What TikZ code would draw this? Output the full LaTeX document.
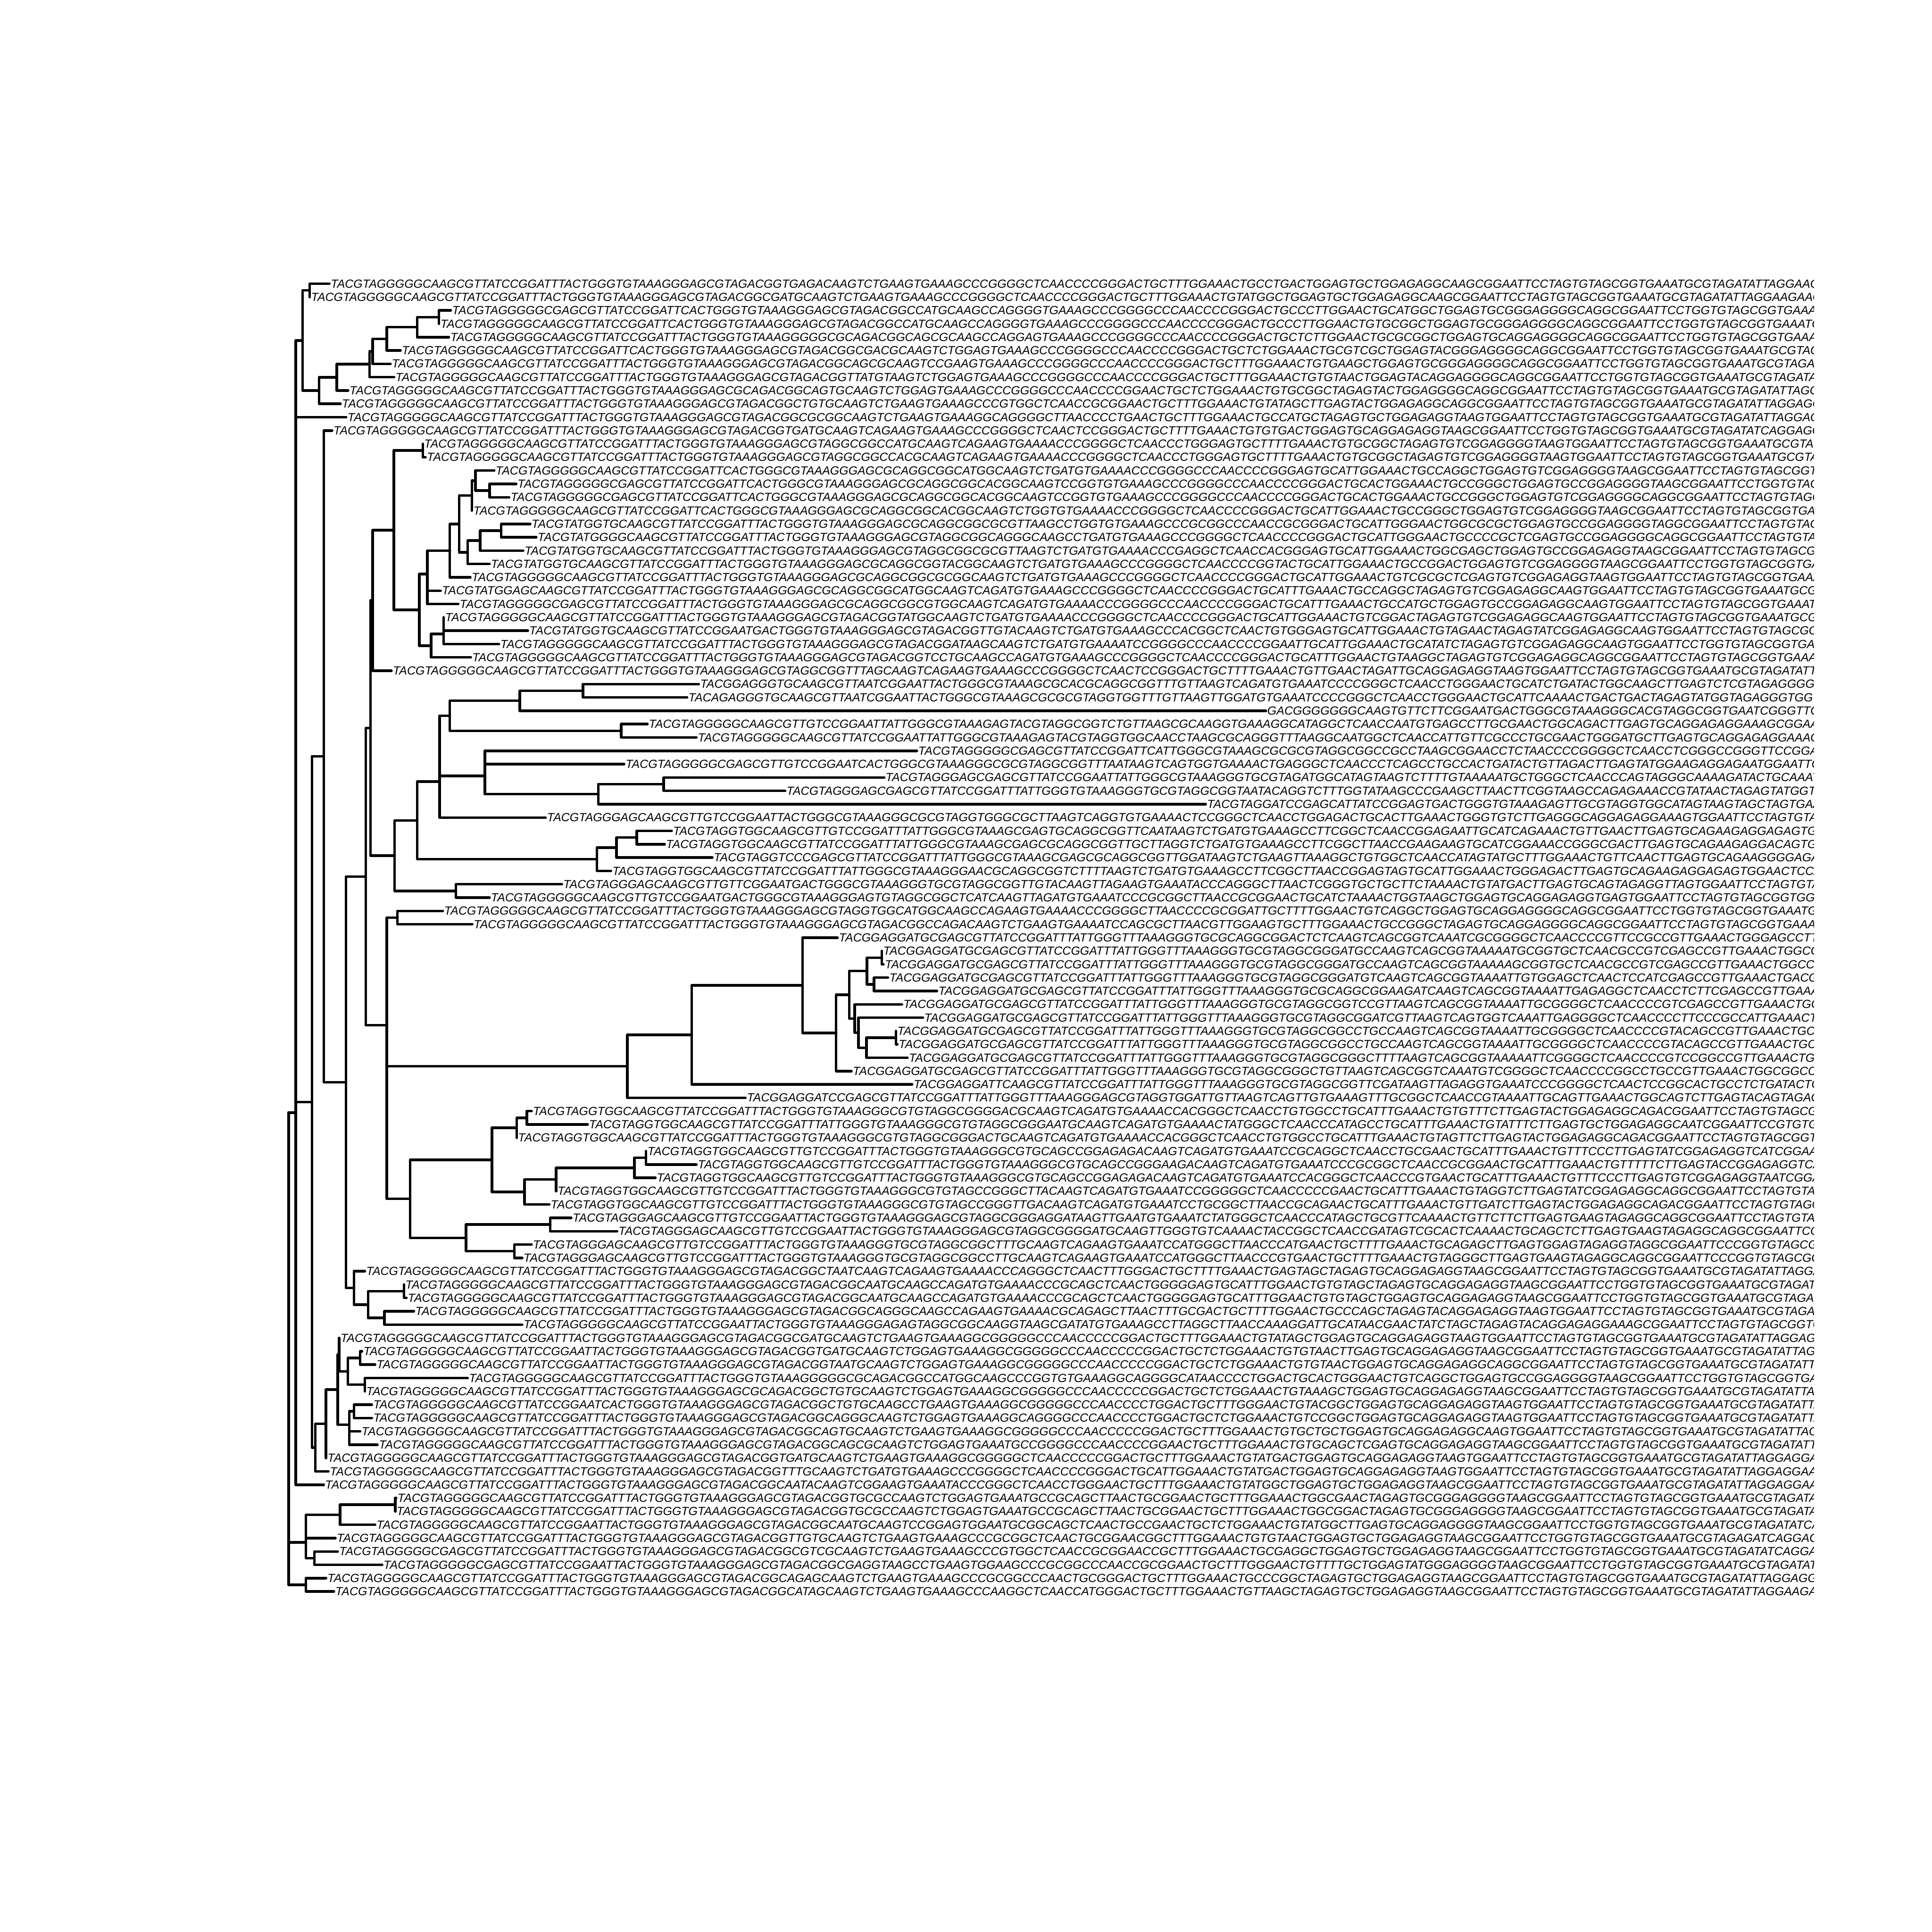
\documentclass[tikz,border=0pt]{standalone}
\usepackage{fontspec}
\newfontfamily\seqfont{Liberation Sans}
\begin{document}
\begin{tikzpicture}[x=1pt,y=1pt,
  branch/.style={line width=2.1pt,line cap=round,line join=round},
  lab/.style={anchor=west,inner sep=0pt,outer sep=0pt,xshift=1.2pt,font=\seqfont\itshape\fontsize{9.56}{9.56}\selectfont}]
\fill[white] (0,0) rectangle (1568,-1568);
\useasboundingbox (0,0) rectangle (1568,-1568);
\begin{scope}[yshift=-219.47pt,y=-10.83pt]
% tips
\foreach \k/\x in {1/267.3,2/251.3,3/365.8,4/356.3,5/364.3,6/325.0,7/316.9,8/319.8,9/282.5,10/276.3,
11/280.9,12/269.5,13/343.1,14/345.3,15/401.1,16/418.9,17/413.2,18/383.0,19/430.3,20/435.2,
21/424.6,22/397.3,23/381.7,24/357.5,25/371.9,26/360.1,27/428.4,28/404.9,29/382.1,30/317.7,
31/567.1,32/557.6,33/1027.4,34/525.4,35/565.2,36/744.1,37/506.5,38/717.6,39/637.2,40/978.5,
41/442.8,42/545.1,43/539.4,44/578.1,45/495.8,46/456.0,47/397.3,48/359.4,49/383.3,50/679.7,
51/715.7,52/717.0,53/720.6,54/760.4,55/732.0,56/749.0,57/727.1,58/728.2,59/736.5,60/691.0,
61/740.3,62/605.0,63/431.4,64/476.9,65/419.3,66/524.3,67/565.2,68/531.9,69/451.3,70/445.8,
71/463.6,72/500.8,73/431.4,74/423.8,75/296.1,76/327.9,77/329.8,78/335.9,79/423.8,80/275.2,
81/293.8,82/304.4,83/379.5,84/296.1,85/301.8,86/301.8,87/292.3,88/306.3,89/264.6,90/266.5,
91/262.7,92/321.5,93/320.7,94/304.4,95/272.2,96/274.1,97/310.1,98/264.6,99/271.0}
  {\coordinate (t\k) at (\x,\k);}
% internal nodes
\foreach \n/\x/\k in {A/251.3/1.5,H/356.3/3.5,G/338.5/4.25,F/313.9/5.125,E2/302.5/6.0625,E/299.9/7.03125,
D/273.3/8.015625,C/258.9/9.0078,B/245.5/5.2539,Y/240.0/8.127,
N13/343.1/13.5,N455/397.3/16.5,N425/385.9/15.75,N418/383.0/16.875,N480/406.8/19.5,N435/389.7/20.25,
N405/379.5/21.125,N390/372.6/19.0,N370/365.1/21.0,N322a/346.9/24.5,N322/346.9/22.75,W5a/360.1/26.5,
W5/360.1/27.25,W4/349.9/28.125,W3/340.4/25.4375,W2/319.6/19.46875,W1/302.5/24.734,
N655/473.1/31.5,N520/421.9/32.25,N737/504.2/34.5,M1/365.1/33.375,K3b/393.5/36.5,K2/538.7/38.5,
K1/485.6/39.25,K3/393.5/37.875,M0c/356.7/35.625,M0/356.7/38.3125,N770/516.7/42.5,N727/500.4/43.25,
K4/484.5/44.125,L1/338.5/41.21875,N383/370.0/46.5,L0/320.3/43.859,V2/300.6/34.297,
N48/322.6/48.5,N1295/715.7/51.5,N1278/709.3/53.5,N1262/703.6/52.5,N1325/727.1/57.5,N1262b/703.2/58.25,
N1245/696.7/57.125,N1236/693.7/56.0625,N1222/689.2/54.28,N1197/678.6/57.14,N1125/651.3/53.57,
N888/561.4/57.285,BC/509.1/59.64,N535/427.6/63.5,N513/419.3/64.25,N790/524.3/66.5,N765/514.8/67.25,
N597/451.3/68.125,N530/425.7/69.0625,N460/399.2/66.656,N585/446.6/71.5,N508/417.4/73.5,
N405b/378.3/72.5,N285/332.8/69.578,V3a/313.9/64.61,V3/313.9/56.555,V1/296.8/45.426,
N272/327.9/76.5,N230/312.0/78.5,N195/298.7/77.5,G1/287.3/76.25,P2/280.7/60.838,P/262.7/36.419,
S6/292.3/81.5,S7/296.1/83.5,S5/282.4/82.5,S4/275.2/81.25,S9/287.3/85.5,S8b/283.5/87.5,S8/283.5/86.5,
S3/274.1/83.875,S2/264.6/86.4375,S/255.9/88.22,Q/253.2/62.32,X/240.0/35.22,N1/240.0/63.11,
T3/320.7/92.5,T2a/276.0/93.25,T2/248.3/94.125,U/255.1/96.5,T1/248.3/95.3125,Z/248.3/98.5,R/234.3/63.11}
  {\coordinate (\n) at (\x,\k);}
% branches
\foreach \p/\c in {A/t1,A/t2,H/t3,H/t4,G/H,G/t5,F/G,F/t6,E2/F,E2/t7,E/E2,E/t8,D/E,D/t9,C/D,C/t10,B/A,B/C,Y/B,Y/t11,
N13/t13,N13/t14,N455/t16,N455/t17,N425/t15,N425/N455,N418/N425,N418/t18,N480/t19,N480/t20,N435/N480,N435/t21,
N405/N435,N405/t22,N390/N418,N390/N405,N370/N390,N370/t23,N322a/t24,N322a/t25,N322/N370,N322/N322a,
W5a/t26,W5a/t27,W5/W5a,W5/t28,W4/W5,W4/t29,W3/N322,W3/W4,W2/N13,W2/W3,W1/W2,W1/t30,
N655/t31,N655/t32,N520/N655,N520/t33,N737/t34,N737/t35,M1/N520,M1/N737,K3b/t36,K3b/t37,K2/t38,K2/t39,
K1/K2,K1/t40,K3/K3b,K3/K1,M0c/M1,M0c/K3,M0/M0c,M0/t41,N770/t42,N770/t43,N727/N770,N727/t44,K4/N727,K4/t45,
L1/M0,L1/K4,N383/t46,N383/t47,L0/L1,L0/N383,V2/W1,V2/L0,
N48/t48,N48/t49,N1295/t51,N1295/t52,N1278/t53,N1278/t54,N1262/N1295,N1262/N1278,N1325/t57,N1325/t58,
N1262b/N1325,N1262b/t59,N1245/t56,N1245/N1262b,N1236/t55,N1236/N1245,N1222/N1262,N1222/N1236,
N1197/N1222,N1197/t60,N1125/t50,N1125/N1197,N888/N1125,N888/t61,BC/N888,BC/t62,
N535/t63,N535/t64,N513/N535,N513/t65,N790/t66,N790/t67,N765/N790,N765/t68,N597/N765,N597/t69,
N530/N597,N530/t70,N460/N513,N460/N530,N585/t71,N585/t72,N508/t73,N508/t74,N405b/N585,N405b/N508,
N285/N460,N285/N405b,V3a/BC,V3a/N285,V3/N48,V3/V3a,V1/V2,V1/V3,
N272/t76,N272/t77,N230/t78,N230/t79,N195/N272,N195/N230,G1/t75,G1/N195,P2/V1,P2/G1,P/t12,P/P2,
S6/t81,S6/t82,S7/t83,S7/t84,S5/S6,S5/S7,S4/t80,S4/S5,S9/t85,S9/t86,S8b/t87,S8b/t88,S8/S9,S8/S8b,
S3/S4,S3/S8,S2/S3,S2/t89,S/S2,S/t90,Q/P,Q/S,X/Y,X/Q,N1/X,N1/t91,
T3/t92,T3/t93,T2a/T3,T2a/t94,T2/T2a,T2/t95,U/t96,U/t97,T1/T2,T1/U,Z/t98,Z/t99,R/N1,R/T1,R/Z}
  {\draw[branch] (\p) |- (\c);}
% labels
\begin{scope}
\clip (0,-25) rectangle (1472,126);
\node[lab] (l1) at (t1) {TACGTAGGGGGCAAGCGTTATCCGGATTTACTGGGTGTAAAGGGAGCGTAGACGGTGAGACAAGTCTGAAGTGAAAGCCCGGGGCTCAACCCCGGGACTGCTTTGGAAACTGCCTGACTGGAGTGCTGGAGAGGCAAGCGGAATTCCTAGTGTAGCGGTGAAATGCGTAGATATTAGGAAGAACACC};
\node[lab] (l2) at (t2) {TACGTAGGGGGCAAGCGTTATCCGGATTTACTGGGTGTAAAGGGAGCGTAGACGGCGATGCAAGTCTGAAGTGAAAGCCCGGGGCTCAACCCCGGGACTGCTTTGGAAACTGTATGGCTGGAGTGCTGGAGAGGCAAGCGGAATTCCTAGTGTAGCGGTGAAATGCGTAGATATTAGGAAGAACACC};
\node[lab] (l3) at (t3) {TACGTAGGGGGCGAGCGTTATCCGGATTCACTGGGTGTAAAGGGAGCGTAGACGGCCATGCAAGCCAGGGGTGAAAGCCCGGGGCCCAACCCCGGGACTGCCCTTGGAACTGCATGGCTGGAGTGCGGGAGGGGCAGGCGGAATTCCTGGTGTAGCGGTGAAATGCGTAG};
\node[lab] (l4) at (t4) {TACGTAGGGGGCAAGCGTTATCCGGATTCACTGGGTGTAAAGGGAGCGTAGACGGCCATGCAAGCCAGGGGTGAAAGCCCGGGGCCCAACCCCGGGACTGCCCTTGGAACTGTGCGGCTGGAGTGCGGGAGGGGCAGGCGGAATTCCTGGTGTAGCGGTGAAATGCGTAG};
\node[lab] (l5) at (t5) {TACGTAGGGGGCAAGCGTTATCCGGATTTACTGGGTGTAAAGGGGGCGCAGACGGCAGCGCAAGCCAGGAGTGAAAGCCCGGGGCCCAACCCCGGGACTGCTCTTGGAACTGCGCGGCTGGAGTGCAGGAGGGGCAGGCGGAATTCCTGGTGTAGCGGTGAAATGCGTAG};
\node[lab] (l6) at (t6) {TACGTAGGGGGCAAGCGTTATCCGGATTCACTGGGTGTAAAGGGAGCGTAGACGGCGACGCAAGTCTGGAGTGAAAGCCCGGGGCCCAACCCCGGGACTGCTCTGGAAACTGCGTCGCTGGAGTACGGGAGGGGCAGGCGGAATTCCTGGTGTAGCGGTGAAATGCGTAGATATC};
\node[lab] (l7) at (t7) {TACGTAGGGGGCAAGCGTTATCCGGATTTACTGGGTGTAAAGGGAGCGTAGACGGCAGCGCAAGTCCGAAGTGAAAGCCCGGGGCCCAACCCCGGGACTGCTTTGGAAACTGTGAAGCTGGAGTGCGGGAGGGGCAGGCGGAATTCCTGGTGTAGCGGTGAAATGCGTAGATATC};
\node[lab] (l8) at (t8) {TACGTAGGGGGCAAGCGTTATCCGGATTTACTGGGTGTAAAGGGAGCGTAGACGGTTATGTAAGTCTGGAGTGAAAGCCCGGGGCCCAACCCCGGGACTGCTTTGGAAACTGTGTAACTGGAGTACAGGAGGGGCAGGCGGAATTCCTGGTGTAGCGGTGAAATGCGTAGATATC};
\node[lab] (l9) at (t9) {TACGTAGGGGGCAAGCGTTATCCGGATTTACTGGGTGTAAAGGGAGCGCAGACGGCAGTGCAAGTCTGGAGTGAAAGCCCGGGGCCCAACCCCGGAACTGCTCTGGAAACTGTGCGGCTAGAGTACTGGAGGGGCAGGCGGAATTCCTAGTGTAGCGGTGAAATGCGTAGATATTAGGAGG};
\node[lab] (l10) at (t10) {TACGTAGGGGGCAAGCGTTATCCGGATTTACTGGGTGTAAAGGGAGCGTAGACGGCTGTGCAAGTCTGAAGTGAAAGCCCGTGGCTCAACCGCGGAACTGCTTTGGAAACTGTATAGCTTGAGTACTGGAGAGGCAGGCGGAATTCCTAGTGTAGCGGTGAAATGCGTAGATATTAGGAGGAAC};
\node[lab] (l11) at (t11) {TACGTAGGGGGCAAGCGTTATCCGGATTTACTGGGTGTAAAGGGAGCGTAGACGGCGCGGCAAGTCTGAAGTGAAAGGCAGGGGCTTAACCCCTGAACTGCTTTGGAAACTGCCATGCTAGAGTGCTGGAGAGGTAAGTGGAATTCCTAGTGTAGCGGTGAAATGCGTAGATATTAGGAGGAAC};
\node[lab] (l12) at (t12) {TACGTAGGGGGCAAGCGTTATCCGGATTTACTGGGTGTAAAGGGAGCGTAGACGGTGATGCAAGTCAGAAGTGAAAGCCCGGGGCTCAACTCCGGGACTGCTTTTGAAACTGTGTGACTGGAGTGCAGGAGAGGTAAGCGGAATTCCTGGTGTAGCGGTGAAATGCGTAGATATCAGGAGGAAC};
\node[lab] (l13) at (t13) {TACGTAGGGGGCAAGCGTTATCCGGATTTACTGGGTGTAAAGGGAGCGTAGGCGGCCATGCAAGTCAGAAGTGAAAACCCGGGGCTCAACCCTGGGAGTGCTTTTGAAACTGTGCGGCTAGAGTGTCGGAGGGGTAAGTGGAATTCCTAGTGTAGCGGTGAAATGCGTAGATAT};
\node[lab] (l14) at (t14) {TACGTAGGGGGCAAGCGTTATCCGGATTTACTGGGTGTAAAGGGAGCGTAGGCGGCCACGCAAGTCAGAAGTGAAAACCCGGGGCTCAACCCTGGGAGTGCTTTTGAAACTGTGCGGCTAGAGTGTCGGAGGGGTAAGTGGAATTCCTAGTGTAGCGGTGAAATGCGTAGATAT};
\node[lab] (l15) at (t15) {TACGTAGGGGGCAAGCGTTATCCGGATTCACTGGGCGTAAAGGGAGCGCAGGCGGCATGGCAAGTCTGATGTGAAAACCCGGGGCCCAACCCCGGGAGTGCATTGGAAACTGCCAGGCTGGAGTGTCGGAGGGGTAAGCGGAATTCCTAGTGTAGCGGTGAAATG};
\node[lab] (l16) at (t16) {TACGTAGGGGGCGAGCGTTATCCGGATTCACTGGGCGTAAAGGGAGCGCAGGCGGCACGGCAAGTCCGGTGTGAAAGCCCGGGGCCCAACCCCGGGACTGCACTGGAAACTGCCGGGCTGGAGTGCCGGAGGGGTAAGCGGAATTCCTGGTGTAGCGGTGAAATG};
\node[lab] (l17) at (t17) {TACGTAGGGGGCGAGCGTTATCCGGATTCACTGGGCGTAAAGGGAGCGCAGGCGGCACGGCAAGTCCGGTGTGAAAGCCCGGGGCCCAACCCCGGGACTGCACTGGAAACTGCCGGGCTGGAGTGTCGGAGGGGCAGGCGGAATTCCTAGTGTAGCGGTGAAATG};
\node[lab] (l18) at (t18) {TACGTAGGGGGCAAGCGTTATCCGGATTCACTGGGCGTAAAGGGAGCGCAGGCGGCACGGCAAGTCTGGTGTGAAAACCCGGGGCTCAACCCCGGGACTGCATTGGAAACTGCCGGGCTGGAGTGTCGGAGGGGTAAGCGGAATTCCTAGTGTAGCGGTGAAATGCG};
\node[lab] (l19) at (t19) {TACGTATGGTGCAAGCGTTATCCGGATTTACTGGGTGTAAAGGGAGCGCAGGCGGCGCGTTAAGCCTGGTGTGAAAGCCCGCGGCCCAACCGCGGGACTGCATTGGGAACTGGCGCGCTGGAGTGCCGGAGGGGTAGGCGGAATTCCTAGTGTAGCGGTGAAATG};
\node[lab] (l20) at (t20) {TACGTATGGGGCAAGCGTTATCCGGATTTACTGGGTGTAAAGGGAGCGTAGGCGGCAGGGCAAGCCTGATGTGAAAGCCCGGGGCTCAACCCCGGGACTGCATTGGGAACTGCCCCGCTCGAGTGCCGGAGGGGCAGGCGGAATTCCTAGTGTAGCGGTGAAATG};
\node[lab] (l21) at (t21) {TACGTATGGTGCAAGCGTTATCCGGATTTACTGGGTGTAAAGGGAGCGTAGGCGGCGCGTTAAGTCTGATGTGAAAACCCGAGGCTCAACCACGGGAGTGCATTGGAAACTGGCGAGCTGGAGTGCCGGAGAGGTAAGCGGAATTCCTAGTGTAGCGGTGAAATG};
\node[lab] (l22) at (t22) {TACGTATGGTGCAAGCGTTATCCGGATTTACTGGGTGTAAAGGGAGCGCAGGCGGTACGGCAAGTCTGATGTGAAAGCCCGGGGCTCAACCCCGGTACTGCATTGGAAACTGCCGGACTGGAGTGTCGGAGGGGTAAGCGGAATTCCTGGTGTAGCGGTGAAATG};
\node[lab] (l23) at (t23) {TACGTAGGGGGCAAGCGTTATCCGGATTTACTGGGTGTAAAGGGAGCGCAGGCGGCGCGGCAAGTCTGATGTGAAAGCCCGGGGCTCAACCCCGGGACTGCATTGGAAACTGTCGCGCTCGAGTGTCGGAGAGGTAAGTGGAATTCCTAGTGTAGCGGTGAAATGCG};
\node[lab] (l24) at (t24) {TACGTATGGAGCAAGCGTTATCCGGATTTACTGGGTGTAAAGGGAGCGCAGGCGGCATGGCAAGTCAGATGTGAAAGCCCGGGGCTCAACCCCGGGACTGCATTTGAAACTGCCAGGCTAGAGTGTCGGAGAGGCAAGTGGAATTCCTAGTGTAGCGGTGAAATGCGTAG};
\node[lab] (l25) at (t25) {TACGTAGGGGGCGAGCGTTATCCGGATTTACTGGGTGTAAAGGGAGCGCAGGCGGCGTGGCAAGTCAGATGTGAAAACCCGGGGCCCAACCCCGGGACTGCATTTGAAACTGCCATGCTGGAGTGCCGGAGAGGCAAGTGGAATTCCTAGTGTAGCGGTGAAATGCG};
\node[lab] (l26) at (t26) {TACGTAGGGGGCAAGCGTTATCCGGATTTACTGGGTGTAAAGGGAGCGTAGACGGTATGGCAAGTCTGATGTGAAAACCCGGGGCTCAACCCCGGGACTGCATTGGAAACTGTCGGACTAGAGTGTCGGAGAGGCAAGTGGAATTCCTAGTGTAGCGGTGAAATGCGTAG};
\node[lab] (l27) at (t27) {TACGTATGGTGCAAGCGTTATCCGGAATGACTGGGTGTAAAGGGAGCGTAGACGGTTGTACAAGTCTGATGTGAAAGCCCACGGCTCAACTGTGGGAGTGCATTGGAAACTGTAGAACTAGAGTATCGGAGAGGCAAGTGGAATTCCTAGTGTAGCGGTGAAATG};
\node[lab] (l28) at (t28) {TACGTAGGGGGCAAGCGTTATCCGGATTTACTGGGTGTAAAGGGAGCGTAGACGGATAAGCAAGTCTGATGTGAAAATCCGGGGCCCAACCCCGGAATTGCATTGGAAACTGCATATCTAGAGTGTCGGAGAGGCAAGTGGAATTCCTGGTGTAGCGGTGAAATG};
\node[lab] (l29) at (t29) {TACGTAGGGGGCAAGCGTTATCCGGATTTACTGGGTGTAAAGGGAGCGTAGACGGTCCTGCAAGCCAGATGTGAAAGCCCGGGGCTCAACCCCGGGACTGCATTTGGAACTGTAAGGCTAGAGTGTCGGAGAGGCAGGCGGAATTCCTAGTGTAGCGGTGAAATGCG};
\node[lab] (l30) at (t30) {TACGTAGGGGGCAAGCGTTATCCGGATTTACTGGGTGTAAAGGGAGCGTAGGCGGTTTAGCAAGTCAGAAGTGAAAGCCCGGGGCTCAACTCCGGGACTGCTTTTGAAACTGTTGAACTAGATTGCAGGAGAGGTAAGTGGAATTCCTAGTGTAGCGGTGAAATGCGTAGATATTAGG};
\node[lab] (l31) at (t31) {TACGGAGGGTGCAAGCGTTAATCGGAATTACTGGGCGTAAAGCGCACGCAGGCGGTTTGTTAAGTCAGATGTGAAATCCCCGGGCTCAACCTGGGAACTGCATCTGATACTGGCAAGCTTGAGTCTCGTAGAGGGGGGTAG};
\node[lab] (l32) at (t32) {TACAGAGGGTGCAAGCGTTAATCGGAATTACTGGGCGTAAAGCGCGCGTAGGTGGTTTGTTAAGTTGGATGTGAAATCCCCGGGCTCAACCTGGGAACTGCATTCAAAACTGACTGACTAGAGTATGGTAGAGGGTGGTGGA};
\node[lab] (l33) at (t33) {GACGGGGGGGCAAGTGTTCTTCGGAATGACTGGGCGTAAAGGGCACGTAGGCGGTGAATCGGGTTGAAAG};
\node[lab] (l34) at (t34) {TACGTAGGGGGCAAGCGTTGTCCGGAATTATTGGGCGTAAAGAGTACGTAGGCGGTCTGTTAAGCGCAAGGTGAAAGGCATAGGCTCAACCAATGTGAGCCTTGCGAACTGGCAGACTTGAGTGCAGGAGAGGAAAGCGGAATTCC};
\node[lab] (l35) at (t35) {TACGTAGGGGGCAAGCGTTATCCGGAATTATTGGGCGTAAAGAGTACGTAGGTGGCAACCTAAGCGCAGGGTTTAAGGCAATGGCTCAACCATTGTTCGCCCTGCGAACTGGGATGCTTGAGTGCAGGAGAGGAAAGCGGAATTCC};
\node[lab] (l36) at (t36) {TACGTAGGGGGCGAGCGTTATCCGGATTCATTGGGCGTAAAGCGCGCGTAGGCGGCCGCCTAAGCGGAACCTCTAACCCCGGGGCTCAACCTCGGGCCGGGTTCCGGACTGG};
\node[lab] (l37) at (t37) {TACGTAGGGGGCGAGCGTTGTCCGGAATCACTGGGCGTAAAGGGCGCGTAGGCGGTTTAATAAGTCAGTGGTGAAAACTGAGGGCTCAACCCTCAGCCTGCCACTGATACTGTTAGACTTGAGTATGGAAGAGGAGAATGGAATTCCTAG};
\node[lab] (l38) at (t38) {TACGTAGGGAGCGAGCGTTATCCGGAATTATTGGGCGTAAAGGGTGCGTAGATGGCATAGTAAGTCTTTTGTAAAAATGCTGGGCTCAACCCAGTAGGGCAAAAGATACTGCAAATGCTAG};
\node[lab] (l39) at (t39) {TACGTAGGGAGCGAGCGTTATCCGGATTTATTGGGTGTAAAGGGTGCGTAGGCGGTAATACAGGTCTTTGGTATAAGCCCGAAGCTTAACTTCGGTAAGCCAGAGAAACCGTATAACTAGAGTATGGTAGAGG};
\node[lab] (l40) at (t40) {TACGTAGGATCCGAGCATTATCCGGAGTGACTGGGTGTAAAGAGTTGCGTAGGTGGCATAGTAAGTAGCTAGTGAAATC};
\node[lab] (l41) at (t41) {TACGTAGGGAGCAAGCGTTGTCCGGAATTACTGGGCGTAAAGGGCGCGTAGGTGGGCGCTTAAGTCAGGTGTGAAAACTCCGGGCTCAACCTGGAGACTGCACTTGAAACTGGGTGTCTTGAGGGCAGGAGAGGAAAGTGGAATTCCTAGTGTAGCGG};
\node[lab] (l42) at (t42) {TACGTAGGTGGCAAGCGTTGTCCGGATTTATTGGGCGTAAAGCGAGTGCAGGCGGTTCAATAAGTCTGATGTGAAAGCCTTCGGCTCAACCGGAGAATTGCATCAGAAACTGTTGAACTTGAGTGCAGAAGAGGAGAGTGGAACTCC};
\node[lab] (l43) at (t43) {TACGTAGGTGGCAAGCGTTATCCGGATTTATTGGGCGTAAAGCGAGCGCAGGCGGTTGCTTAGGTCTGATGTGAAAGCCTTCGGCTTAACCGAAGAAGTGCATCGGAAACCGGGCGACTTGAGTGCAGAAGAGGACAGTGGAACTCC};
\node[lab] (l44) at (t44) {TACGTAGGTCCCGAGCGTTATCCGGATTTATTGGGCGTAAAGCGAGCGCAGGCGGTTGGATAAGTCTGAAGTTAAAGGCTGTGGCTCAACCATAGTATGCTTTGGAAACTGTTCAACTTGAGTGCAGAAGGGGAGAGTGG};
\node[lab] (l45) at (t45) {TACGTAGGTGGCAAGCGTTATCCGGATTTATTGGGCGTAAAGGGAACGCAGGCGGTCTTTTAAGTCTGATGTGAAAGCCTTCGGCTTAACCGGAGTAGTGCATTGGAAACTGGGAGACTTGAGTGCAGAAGAGGAGAGTGGAACTCCATGTG};
\node[lab] (l46) at (t46) {TACGTAGGGAGCAAGCGTTGTTCGGAATGACTGGGCGTAAAGGGTGCGTAGGCGGTTGTACAAGTTAGAAGTGAAATACCCAGGGCTTAACTCGGGTGCTGCTTCTAAAACTGTATGACTTGAGTGCAGTAGAGGTTAGTGGAATTCCTAGTGTAGCGG};
\node[lab] (l47) at (t47) {TACGTAGGGGGCAAGCGTTGTCCGGAATGACTGGGCGTAAAGGGAGTGTAGGCGGCTCATCAAGTTAGATGTGAAATCCCGCGGCTTAACCGCGGAACTGCATCTAAAACTGGTAAGCTGGAGTGCAGGAGAGGTGAGTGGAATTCCTAGTGTAGCGGTGGAATG};
\node[lab] (l48) at (t48) {TACGTAGGGGGCAAGCGTTATCCGGATTTACTGGGTGTAAAGGGAGCGTAGGTGGCATGGCAAGCCAGAAGTGAAAACCCGGGGCTTAACCCCGCGGATTGCTTTTGGAACTGTCAGGCTGGAGTGCAGGAGGGGCAGGCGGAATTCCTGGTGTAGCGGTGAAATGCGTAG};
\node[lab] (l49) at (t49) {TACGTAGGGGGCAAGCGTTATCCGGATTTACTGGGTGTAAAGGGAGCGTAGACGGCCAGACAAGTCTGAAGTGAAAATCCAGCGCTTAACGTTGGAAGTGCTTTGGAAACTGCCGGGCTAGAGTGCAGGAGGGGCAGGCGGAATTCCTAGTGTAGCGGTGAAATGCG};
\node[lab] (l50) at (t50) {TACGGAGGATGCGAGCGTTATCCGGATTTATTGGGTTTAAAGGGTGCGCAGGCGGACTCTCAAGTCAGCGGTCAAATCGCGGGGCTCAACCCCGTTCCGCCGTTGAAACTGGGAGCCTTGAG};
\node[lab] (l51) at (t51) {TACGGAGGATGCGAGCGTTATCCGGATTTATTGGGTTTAAAGGGTGCGTAGGCGGGATGCCAAGTCAGCGGTAAAAATGCGGTGCTCAACGCCGTCGAGCCGTTGAAACTGGCGGCC};
\node[lab] (l52) at (t52) {TACGGAGGATGCGAGCGTTATCCGGATTTATTGGGTTTAAAGGGTGCGTAGGCGGGATGCCAAGTCAGCGGTAAAAAGCGGTGCTCAACGCCGTCGAGCCGTTGAAACTGGCCGCC};
\node[lab] (l53) at (t53) {TACGGAGGATGCGAGCGTTATCCGGATTTATTGGGTTTAAAGGGTGCGTAGGCGGGATGTCAAGTCAGCGGTAAAATTGTGGAGCTCAACTCCATCGAGCCGTTGAAACTGACGGCC};
\node[lab] (l54) at (t54) {TACGGAGGATGCGAGCGTTATCCGGATTTATTGGGTTTAAAGGGTGCGCAGGCGGAAGATCAAGTCAGCGGTAAAATTGAGAGGCTCAACCTCTTCGAGCCGTTGAAACTGG};
\node[lab] (l55) at (t55) {TACGGAGGATGCGAGCGTTATCCGGATTTATTGGGTTTAAAGGGTGCGTAGGCGGTCCGTTAAGTCAGCGGTAAAATTGCGGGGCTCAACCCCGTCGAGCCGTTGAAACTGGCGG};
\node[lab] (l56) at (t56) {TACGGAGGATGCGAGCGTTATCCGGATTTATTGGGTTTAAAGGGTGCGTAGGCGGATCGTTAAGTCAGTGGTCAAATTGAGGGGCTCAACCCCTTCCCGCCATTGAAACTGGCG};
\node[lab] (l57) at (t57) {TACGGAGGATGCGAGCGTTATCCGGATTTATTGGGTTTAAAGGGTGCGTAGGCGGCCTGCCAAGTCAGCGGTAAAATTGCGGGGCTCAACCCCGTACAGCCGTTGAAACTGCGG};
\node[lab] (l58) at (t58) {TACGGAGGATGCGAGCGTTATCCGGATTTATTGGGTTTAAAGGGTGCGTAGGCGGCCTGCCAAGTCAGCGGTAAAATTGCGGGGCTCAACCCCGTACAGCCGTTGAAACTGCGG};
\node[lab] (l59) at (t59) {TACGGAGGATGCGAGCGTTATCCGGATTTATTGGGTTTAAAGGGTGCGTAGGCGGGCTTTTAAGTCAGCGGTAAAAATTCGGGGCTCAACCCCGTCCGGCCGTTGAAACTGGCGG};
\node[lab] (l60) at (t60) {TACGGAGGATGCGAGCGTTATCCGGATTTATTGGGTTTAAAGGGTGCGTAGGCGGGCTGTTAAGTCAGCGGTCAAATGTCGGGGCTCAACCCCGGCCTGCCGTTGAAACTGGCGGCCTTG};
\node[lab] (l61) at (t61) {TACGGAGGATTCAAGCGTTATCCGGATTTATTGGGTTTAAAGGGTGCGTAGGCGGTTCGATAAGTTAGAGGTGAAATCCCGGGGCTCAACTCCGGCACTGCCTCTGATACTGGC};
\node[lab] (l62) at (t62) {TACGGAGGATCCGAGCGTTATCCGGATTTATTGGGTTTAAAGGGAGCGTAGGTGGATTGTTAAGTCAGTTGTGAAAGTTTGCGGCTCAACCGTAAAATTGCAGTTGAAACTGGCAGTCTTGAGTACAGTAGAGG};
\node[lab] (l63) at (t63) {TACGTAGGTGGCAAGCGTTATCCGGATTTACTGGGTGTAAAGGGCGTGTAGGCGGGGACGCAAGTCAGATGTGAAAACCACGGGCTCAACCTGTGGCCTGCATTTGAAACTGTGTTTCTTGAGTACTGGAGAGGCAGACGGAATTCCTAGTGTAGCGGTG};
\node[lab] (l64) at (t64) {TACGTAGGTGGCAAGCGTTATCCGGATTTATTGGGTGTAAAGGGCGTGTAGGCGGGAATGCAAGTCAGATGTGAAAACTATGGGCTCAACCCATAGCCTGCATTTGAAACTGTATTTCTTGAGTGCTGGAGAGGCAATCGGAATTCCGTGTGTAG};
\node[lab] (l65) at (t65) {TACGTAGGTGGCAAGCGTTATCCGGATTTACTGGGTGTAAAGGGCGTGTAGGCGGGACTGCAAGTCAGATGTGAAAACCACGGGCTCAACCTGTGGCCTGCATTTGAAACTGTAGTTCTTGAGTACTGGAGAGGCAGACGGAATTCCTAGTGTAGCGGTGAAATG};
\node[lab] (l66) at (t66) {TACGTAGGTGGCAAGCGTTGTCCGGATTTACTGGGTGTAAAGGGCGTGCAGCCGGAGAGACAAGTCAGATGTGAAATCCGCAGGCTCAACCTGCGAACTGCATTTGAAACTGTTTCCCTTGAGTATCGGAGAGGTCATCGGAATTCC};
\node[lab] (l67) at (t67) {TACGTAGGTGGCAAGCGTTGTCCGGATTTACTGGGTGTAAAGGGCGTGCAGCCGGGAAGACAAGTCAGATGTGAAATCCCGCGGCTCAACCGCGGAACTGCATTTGAAACTGTTTTTCTTGAGTACCGGAGAGGTCATCGG};
\node[lab] (l68) at (t68) {TACGTAGGTGGCAAGCGTTGTCCGGATTTACTGGGTGTAAAGGGCGTGCAGCCGGAGAGACAAGTCAGATGTGAAATCCACGGGCTCAACCCGTGAACTGCATTTGAAACTGTTTCCCTTGAGTGTCGGAGAGGTAATCGGAATTCC};
\node[lab] (l69) at (t69) {TACGTAGGTGGCAAGCGTTGTCCGGATTTACTGGGTGTAAAGGGCGTGTAGCCGGGCTTACAAGTCAGATGTGAAATCCGGGGGCTCAACCCCCGAACTGCATTTGAAACTGTAGGTCTTGAGTATCGGAGAGGCAGGCGGAATTCCTAGTGTAGCGG};
\node[lab] (l70) at (t70) {TACGTAGGTGGCAAGCGTTGTCCGGATTTACTGGGTGTAAAGGGCGTGTAGCCGGGTTGACAAGTCAGATGTGAAATCCTGCGGCTTAACCGCAGAACTGCATTTGAAACTGTTGATCTTGAGTACTGGAGAGGCAGACGGAATTCCTAGTGTAGCGGTG};
\node[lab] (l71) at (t71) {TACGTAGGGAGCAAGCGTTGTCCGGAATTACTGGGTGTAAAGGGAGCGTAGGCGGGAGGATAAGTTGAATGTGAAATCTATGGGCTCAACCCATAGCTGCGTTCAAAACTGTTCTTCTTGAGTGAAGTAGAGGCAGGCGGAATTCCTAGTGTAGCGG};
\node[lab] (l72) at (t72) {TACGTAGGGAGCAAGCGTTGTCCGGAATTACTGGGTGTAAAGGGAGCGTAGGCGGGGATGCAAGTTGGGTGTCAAAACTACCGGCTCAACCGATAGTCGCACTCAAAACTGCAGCTCTTGAGTGAAGTAGAGGCAGGCGGAATTCCTAGTG};
\node[lab] (l73) at (t73) {TACGTAGGGAGCAAGCGTTGTCCGGATTTACTGGGTGTAAAGGGTGCGTAGGCGGCTTTGCAAGTCAGAAGTGAAATCCATGGGCTTAACCCATGAACTGCTTTTGAAACTGCAGAGCTTGAGTGGAGTAGAGGTAGGCGGAATTCCCGGTGTAGCGGTGAAATG};
\node[lab] (l74) at (t74) {TACGTAGGGAGCAAGCGTTGTCCGGATTTACTGGGTGTAAAGGGTGCGTAGGCGGCCTTGCAAGTCAGAAGTGAAATCCATGGGCTTAACCCGTGAACTGCTTTTGAAACTGTAGGGCTTGAGTGAAGTAGAGGCAGGCGGAATTCCCGGTGTAGCGGTGAAATG};
\node[lab] (l75) at (t75) {TACGTAGGGGGCAAGCGTTATCCGGATTTACTGGGTGTAAAGGGAGCGTAGACGGCTAATCAAGTCAGAAGTGAAAACCCAGGGCTCAACTTTGGGACTGCTTTTGAAACTGAGTAGCTAGAGTGCAGGAGAGGTAAGCGGAATTCCTAGTGTAGCGGTGAAATGCGTAGATATTAGGAGGAAC};
\node[lab] (l76) at (t76) {TACGTAGGGGGCAAGCGTTATCCGGATTTACTGGGTGTAAAGGGAGCGTAGACGGCAATGCAAGCCAGATGTGAAAACCCGCAGCTCAACTGGGGGAGTGCATTTGGAACTGTGTAGCTAGAGTGCAGGAGAGGTAAGCGGAATTCCTGGTGTAGCGGTGAAATGCGTAGATATCAGG};
\node[lab] (l77) at (t77) {TACGTAGGGGGCAAGCGTTATCCGGATTTACTGGGTGTAAAGGGAGCGTAGACGGCAATGCAAGCCAGATGTGAAAACCCGCAGCTCAACTGGGGGAGTGCATTTGGAACTGTGTAGCTGGAGTGCAGGAGAGGTAAGCGGAATTCCTGGTGTAGCGGTGAAATGCGTAGATATCAGG};
\node[lab] (l78) at (t78) {TACGTAGGGGGCAAGCGTTATCCGGATTTACTGGGTGTAAAGGGAGCGTAGACGGCAGGGCAAGCCAGAAGTGAAAACGCAGAGCTTAACTTTGCGACTGCTTTTGGAACTGCCCAGCTAGAGTACAGGAGAGGTAAGTGGAATTCCTAGTGTAGCGGTGAAATGCGTAGATATTAGG};
\node[lab] (l79) at (t79) {TACGTAGGGGGCAAGCGTTATCCGGAATTACTGGGTGTAAAGGGAGAGTAGGCGGCAAGGTAAGCGATATGTGAAAGCCTTAGGCTTAACCAAAGGATTGCATAACGAACTATCTAGCTAGAGTACAGGAGAGGAAAGCGGAATTCCTAGTGTAGCGGTGAAATG};
\node[lab] (l80) at (t80) {TACGTAGGGGGCAAGCGTTATCCGGATTTACTGGGTGTAAAGGGAGCGTAGACGGCGATGCAAGTCTGAAGTGAAAGGCGGGGGCCCAACCCCCGGACTGCTTTGGAAACTGTATAGCTGGAGTGCAGGAGAGGTAAGTGGAATTCCTAGTGTAGCGGTGAAATGCGTAGATATTAGGAGGAAC};
\node[lab] (l81) at (t81) {TACGTAGGGGGCAAGCGTTATCCGGAATTACTGGGTGTAAAGGGAGCGTAGACGGTGATGCAAGTCTGGAGTGAAAGGCGGGGGCCCAACCCCCGGACTGCTCTGGAAACTGTGTAACTTGAGTGCAGGAGAGGTAAGCGGAATTCCTAGTGTAGCGGTGAAATGCGTAGATATTAGGAGG};
\node[lab] (l82) at (t82) {TACGTAGGGGGCAAGCGTTATCCGGAATTACTGGGTGTAAAGGGAGCGTAGACGGTAATGCAAGTCTGGAGTGAAAGGCGGGGGCCCAACCCCCGGACTGCTCTGGAAACTGTGTAACTGGAGTGCAGGAGAGGCAGGCGGAATTCCTAGTGTAGCGGTGAAATGCGTAGATATTAGG};
\node[lab] (l83) at (t83) {TACGTAGGGGGCAAGCGTTATCCGGATTTACTGGGTGTAAAGGGGGCGCAGACGGCCATGGCAAGCCCGGTGTGAAAGGCAGGGGCATAACCCCTGGACTGCACTGGGAACTGTCAGGCTGGAGTGCCGGAGGGGTAAGCGGAATTCCTGGTGTAGCGGTGAAATG};
\node[lab] (l84) at (t84) {TACGTAGGGGGCAAGCGTTATCCGGATTTACTGGGTGTAAAGGGAGCGCAGACGGCTGTGCAAGTCTGGAGTGAAAGGCGGGGGCCCAACCCCCGGACTGCTCTGGAAACTGTAAAGCTGGAGTGCAGGAGAGGTAAGCGGAATTCCTAGTGTAGCGGTGAAATGCGTAGATATTAGGAGG};
\node[lab] (l85) at (t85) {TACGTAGGGGGCAAGCGTTATCCGGAATCACTGGGTGTAAAGGGAGCGTAGACGGCTGTGCAAGCCTGAAGTGAAAGGCGGGGGCCCAACCCCTGGACTGCTTTGGGAACTGTACGGCTGGAGTGCAGGAGAGGTAAGTGGAATTCCTAGTGTAGCGGTGAAATGCGTAGATATTAGG};
\node[lab] (l86) at (t86) {TACGTAGGGGGCAAGCGTTATCCGGATTTACTGGGTGTAAAGGGAGCGTAGACGGCAGGGCAAGTCTGGAGTGAAAGGCAGGGGCCCAACCCCTGGACTGCTCTGGAAACTGTCCGGCTGGAGTGCAGGAGAGGTAAGTGGAATTCCTAGTGTAGCGGTGAAATGCGTAGATATTAGG};
\node[lab] (l87) at (t87) {TACGTAGGGGGCAAGCGTTATCCGGATTTACTGGGTGTAAAGGGAGCGTAGACGGCAGTGCAAGTCTGAAGTGAAAGGCGGGGGCCCAACCCCCGGACTGCTTTGGAAACTGTGCTGCTGGAGTGCAGGAGAGGCAAGTGGAATTCCTAGTGTAGCGGTGAAATGCGTAGATATTAGGAGG};
\node[lab] (l88) at (t88) {TACGTAGGGGGCAAGCGTTATCCGGATTTACTGGGTGTAAAGGGAGCGTAGACGGCAGCGCAAGTCTGGAGTGAAATGCCGGGGCCCAACCCCGGAACTGCTTTGGAAACTGTGCAGCTCGAGTGCAGGAGAGGTAAGCGGAATTCCTAGTGTAGCGGTGAAATGCGTAGATATTAGG};
\node[lab] (l89) at (t89) {TACGTAGGGGGCAAGCGTTATCCGGATTTACTGGGTGTAAAGGGAGCGTAGACGGTGATGCAAGTCTGAAGTGAAAGGCGGGGGCTCAACCCCCGGACTGCTTTGGAAACTGTATGACTGGAGTGCAGGAGAGGTAAGTGGAATTCCTAGTGTAGCGGTGAAATGCGTAGATATTAGGAGGAAC};
\node[lab] (l90) at (t90) {TACGTAGGGGGCAAGCGTTATCCGGATTTACTGGGTGTAAAGGGAGCGTAGACGGTTTGCAAGTCTGATGTGAAAGCCCGGGGCTCAACCCCGGGACTGCATTGGAAACTGTATGACTGGAGTGCAGGAGAGGTAAGTGGAATTCCTAGTGTAGCGGTGAAATGCGTAGATATTAGGAGGAAC};
\node[lab] (l91) at (t91) {TACGTAGGGGGCAAGCGTTATCCGGATTTACTGGGTGTAAAGGGAGCGTAGACGGCAATACAAGTCGGAAGTGAAATACCCGGGCTCAACCTGGGAACTGCTTTGGAAACTGTATGGCTGGAGTGCTGGAGAGGTAAGCGGAATTCCTAGTGTAGCGGTGAAATGCGTAGATATTAGGAGGAACACC};
\node[lab] (l92) at (t92) {TACGTAGGGGGCAAGCGTTATCCGGATTTACTGGGTGTAAAGGGAGCGTAGACGGTGCGCCAAGTCTGGAGTGAAATGCCGCAGCTTAACTGCGGAACTGCTTTGGAAACTGGCGAACTAGAGTGCGGGAGGGGTAAGCGGAATTCCTAGTGTAGCGGTGAAATGCGTAGATATTAGG};
\node[lab] (l93) at (t93) {TACGTAGGGGGCAAGCGTTATCCGGATTTACTGGGTGTAAAGGGAGCGTAGACGGTGCGCCAAGTCTGGAGTGAAATGCCGCAGCTTAACTGCGGAACTGCTTTGGAAACTGGCGGACTAGAGTGCGGGAGGGGTAAGCGGAATTCCTAGTGTAGCGGTGAAATGCGTAGATATTAGG};
\node[lab] (l94) at (t94) {TACGTAGGGGGCAAGCGTTATCCGGAATTACTGGGTGTAAAGGGAGCGTAGACGGCAATGCAAGTCCGGAGTGGAATGCGGCAGCTCAACTGCCGAACTGCTCTGGAAACTGTATGGCTTGAGTGCAGGAGGGGTAAGCGGAATTCCTGGTGTAGCGGTGAAATGCGTAGATATCAGGAGG};
\node[lab] (l95) at (t95) {TACGTAGGGGGCAAGCGTTATCCGGATTTACTGGGTGTAAAGGGAGCGTAGACGGTTGTGCAAGTCTGAAGTGAAAGCCCGCGGCTCAACTGCGGAACGGCTTTGGAAACTGTGTAACTGGAGTGCTGGAGAGGTAAGCGGAATTCCTGGTGTAGCGGTGAAATGCGTAGAGATCAGGAGGAAC};
\node[lab] (l96) at (t96) {TACGTAGGGGGCGAGCGTTATCCGGATTTACTGGGTGTAAAGGGAGCGTAGACGGCGTCGCAAGTCTGAAGTGAAAGCCCGTGGCTCAACCGCGGAACCGCTTTGGAAACTGCGAGGCTGGAGTGCTGGAGAGGTAAGCGGAATTCCTGGTGTAGCGGTGAAATGCGTAGATATCAGGAGGAAC};
\node[lab] (l97) at (t97) {TACGTAGGGGGCGAGCGTTATCCGGAATTACTGGGTGTAAAGGGAGCGTAGACGGCGAGGTAAGCCTGAAGTGGAAGCCCGCGGCCCAACCGCGGAACTGCTTTGGGAACTGTTTTGCTGGAGTATGGGAGGGGTAAGCGGAATTCCTGGTGTAGCGGTGAAATGCGTAGATATCAGG};
\node[lab] (l98) at (t98) {TACGTAGGGGGCAAGCGTTATCCGGATTTACTGGGTGTAAAGGGAGCGTAGACGGCAGAGCAAGTCTGAAGTGAAAGCCCGCGGCCCAACTGCGGGACTGCTTTGGAAACTGCCCGGCTAGAGTGCTGGAGAGGTAAGCGGAATTCCTAGTGTAGCGGTGAAATGCGTAGATATTAGGAGGAAC};
\node[lab] (l99) at (t99) {TACGTAGGGGGCAAGCGTTATCCGGATTTACTGGGTGTAAAGGGAGCGTAGACGGCATAGCAAGTCTGAAGTGAAAGCCCAAGGCTCAACCATGGGACTGCTTTGGAAACTGTTAAGCTAGAGTGCTGGAGAGGTAAGCGGAATTCCTAGTGTAGCGGTGAAATGCGTAGATATTAGGAAGAACACC};
\end{scope}
\end{scope}
\end{tikzpicture}
\end{document}
